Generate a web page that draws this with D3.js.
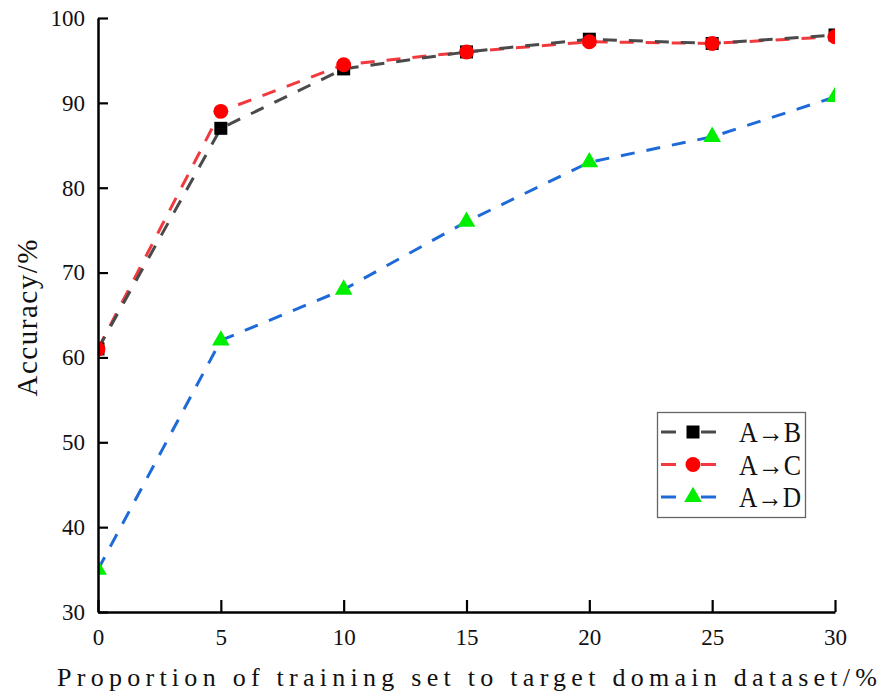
<!DOCTYPE html>
<html>
<head>
<meta charset="utf-8">
<script src="https://cdn.jsdelivr.net/npm/d3@7"></script>
<style>
  body { margin: 0; background: #fff; }
  text { font-family: "Liberation Serif", "DejaVu Serif", serif; fill: #111; }
</style>
</head>
<body>
<div id="chart"></div>
<script>
var proportions = [0, 5, 10, 15, 20, 25, 30];
var accAB = [61, 87, 94, 96, 97.5, 97, 98];
var accAC = [61, 89, 94.5, 96, 97.2, 97, 97.8];
var accAD = [35, 62, 68, 76, 83, 86, 90.7];
var seriesNames = ['A\u2192B', 'A\u2192C', 'A\u2192D'];
var yTicks = [30, 40, 50, 60, 70, 80, 90, 100];

var W = 888, H = 693;
var m = { left: 98, right: 53, top: 18, bottom: 81 };

var svg = d3.select('#chart').append('svg')
    .attr('width', W).attr('height', H);

var x = d3.scaleLinear().domain([0, 30]).range([m.left, W - m.right]);
var y = d3.scaleLinear().domain([30, 100]).range([H - m.bottom, m.top]);

svg.append('defs').append('clipPath').attr('id', 'plot')
    .append('rect')
    .attr('x', m.left).attr('y', m.top - 12)
    .attr('width', W - m.right - m.left).attr('height', H - m.bottom - m.top + 12);

var series = [
    { name: seriesNames[0], vals: accAB, line: '#4a4a4a', fill: '#000', shape: d3.symbolSquare, size: 169 },
    { name: seriesNames[1], vals: accAC, line: '#f2393d', fill: '#ff0000', shape: d3.symbolCircle, size: 175 },
    { name: seriesNames[2], vals: accAD, line: '#1e6ad8', fill: '#00ee00', shape: d3.symbolTriangle, size: 135 }
];

var line = d3.line()
    .x(function (d, i) { return x(proportions[i]); })
    .y(function (d) { return y(d); });

var plot = svg.append('g').attr('clip-path', 'url(#plot)');

// draw D first so A->B / A->C lie on top
series.slice().reverse().forEach(function (s) {
    plot.append('path')
        .datum(s.vals)
        .attr('d', line)
        .attr('fill', 'none')
        .attr('stroke', s.line)
        .attr('stroke-width', 3)
        .attr('stroke-dasharray', '14,12');
});

series.forEach(function (s) {
    plot.selectAll(null)
        .data(s.vals)
        .enter()
        .append('path')
        .attr('d', d3.symbol().type(s.shape).size(s.size))
        .attr('transform', function (d, i) {
            return 'translate(' + x(proportions[i]) + ',' + y(d) + ')';
        })
        .attr('fill', s.fill);
});

// axes, ticks point inward
var xAxis = svg.append('g')
    .attr('transform', 'translate(0,' + (H - m.bottom) + ')')
    .call(d3.axisBottom(x).tickValues(proportions).tickSizeInner(-12).tickSizeOuter(0).tickPadding(17));

var yAxis = svg.append('g')
    .attr('transform', 'translate(' + m.left + ',0)')
    .call(d3.axisLeft(y).tickValues(yTicks).tickSizeInner(-10).tickSizeOuter(0).tickPadding(13));

[xAxis, yAxis].forEach(function (g) {
    g.select('.domain').attr('stroke', '#000').attr('stroke-width', 2.5);
    g.selectAll('.tick line').attr('stroke', '#000').attr('stroke-width', 2.2);
    g.selectAll('.tick text')
        .style('font-family', '"Liberation Serif", serif')
        .style('font-size', '23px')
        .attr('fill', '#111');
});

svg.append('text')
    .attr('x', 467).attr('y', 686)
    .attr('text-anchor', 'middle')
    .attr('textLength', 820)
    .attr('lengthAdjust', 'spacing')
    .style('font-size', '26px')
    .text('Proportion of training set to target domain dataset/%');

svg.append('text')
    .attr('transform', 'translate(37,318) rotate(-90)')
    .attr('text-anchor', 'middle')
    .attr('textLength', 157)
    .attr('lengthAdjust', 'spacing')
    .style('font-size', '29px')
    .text('Accuracy/%');

// legend
var lg = svg.append('g');
lg.append('rect')
    .attr('x', 657.5).attr('y', 412.5)
    .attr('width', 148).attr('height', 105)
    .attr('fill', '#fff').attr('stroke', '#666').attr('stroke-width', 1.3);

series.forEach(function (s, i) {
    var cy = 432 + i * 32.5;
    [[661, 676], [701, 716]].forEach(function (seg) {
        lg.append('line')
            .attr('x1', seg[0]).attr('x2', seg[1])
            .attr('y1', cy).attr('y2', cy)
            .attr('stroke', s.line).attr('stroke-width', 3);
    });
    lg.append('path')
        .attr('d', d3.symbol().type(s.shape).size(s.size))
        .attr('transform', 'translate(693,' + cy + ')')
        .attr('fill', s.fill);
    lg.append('text')
        .attr('x', 739).attr('y', cy + 10)
        .attr('textLength', 62)
        .attr('lengthAdjust', 'spacingAndGlyphs')
        .style('font-size', '29px')
        .text(s.name);
});
</script>
</body>
</html>
